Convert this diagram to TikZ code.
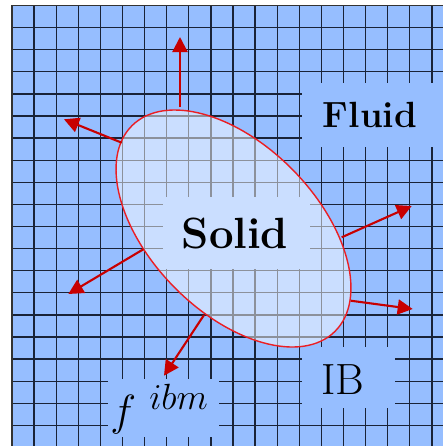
\documentclass[tikz,border=0pt]{standalone}
\usepackage{amsmath, amssymb}
\usepackage{tikz}
\usetikzlibrary{shapes, arrows.meta, positioning}
\definecolor{fluidblue}{RGB}{150,190,255}
\definecolor{meshline}{RGB}{25,35,55}
\definecolor{ibred}{RGB}{235,30,35}
\definecolor{arrowred}{RGB}{200,0,0}

\begin{document}
\begin{tikzpicture}[x=0.2mm, y=-0.2mm]
    \tikzstyle{gridline} = [meshline, line width=0.7pt]
    \tikzstyle{labelbox} = [rectangle, fill=fluidblue, inner sep=0pt, anchor=north west]
    \tikzstyle{labeltext} = [font=\Huge, inner sep=0pt]
    \tikzstyle{arrow} = [very thick, arrowred, -{Triangle[length=3mm, width=3mm]}]

    \useasboundingbox (0,0) rectangle (443,446);
    \clip (0,0) rectangle (443,446);

    % fluid domain and mesh
    \fill [fluidblue] (12,5.5) rectangle (460,460);
    \foreach \i in {0,...,20} {
        \draw [gridline] (12+22.1*\i,5.5) -- (12+22.1*\i,460);
        \draw [gridline] (12,5.5+22.1*\i) -- (460,5.5+22.1*\i);
    }
    \draw [black!80, line width=1pt] (460,5.5) -- (12,5.5) -- (12,460);

    % holes in the mesh behind the labels
    \node [labelbox, minimum width=29.6mm, minimum height=12.8mm] (fluidbox) at (302,83) {};
    \node [labelbox, minimum width=29.4mm, minimum height=14.4mm] (solidbox) at (163,197) {};
    \node [labelbox, minimum width=18.6mm, minimum height=12.2mm] (ibbox) at (302,347) {};
    \node [labelbox, minimum width=22.2mm, minimum height=11.6mm] (fbox) at (108,379) {};

    % immersed body
    \draw [ibred, thick, fill=white, fill opacity=0.5, rotate around={-45.5:(233.5,228.5)}]
        (233.5,228.5) ellipse [x radius=144.5, y radius=83.4];

    \node [labeltext, font=\huge] (fluid) at (370,115) {\bfseries Fluid};
    \node [labeltext] (solid) at (235,233) {\bfseries Solid};
    \node [labeltext] (ib) at (343,380) {IB};
    \node [labeltext, anchor=base west] (force) at (110,425) {$f^{\ ibm}$};

    % forcing directions
    \coordinate (s1) at (180,107);     \coordinate (e1) at (180,37);
    \coordinate (s2) at (121.7,142.7); \coordinate (e2) at (64,119.3);
    \coordinate (s3) at (341.7,237.3); \coordinate (e3) at (411.7,206);
    \coordinate (s4) at (143.3,249.3); \coordinate (e4) at (68.3,294);
    \coordinate (s5) at (350.7,300.7); \coordinate (e5) at (412.7,309);
    \coordinate (s6) at (204,315);     \coordinate (e6) at (164,375.7);

    \foreach \k in {1,...,6}
        \draw [arrow] (s\k) -- (e\k);
\end{tikzpicture}
\end{document}
